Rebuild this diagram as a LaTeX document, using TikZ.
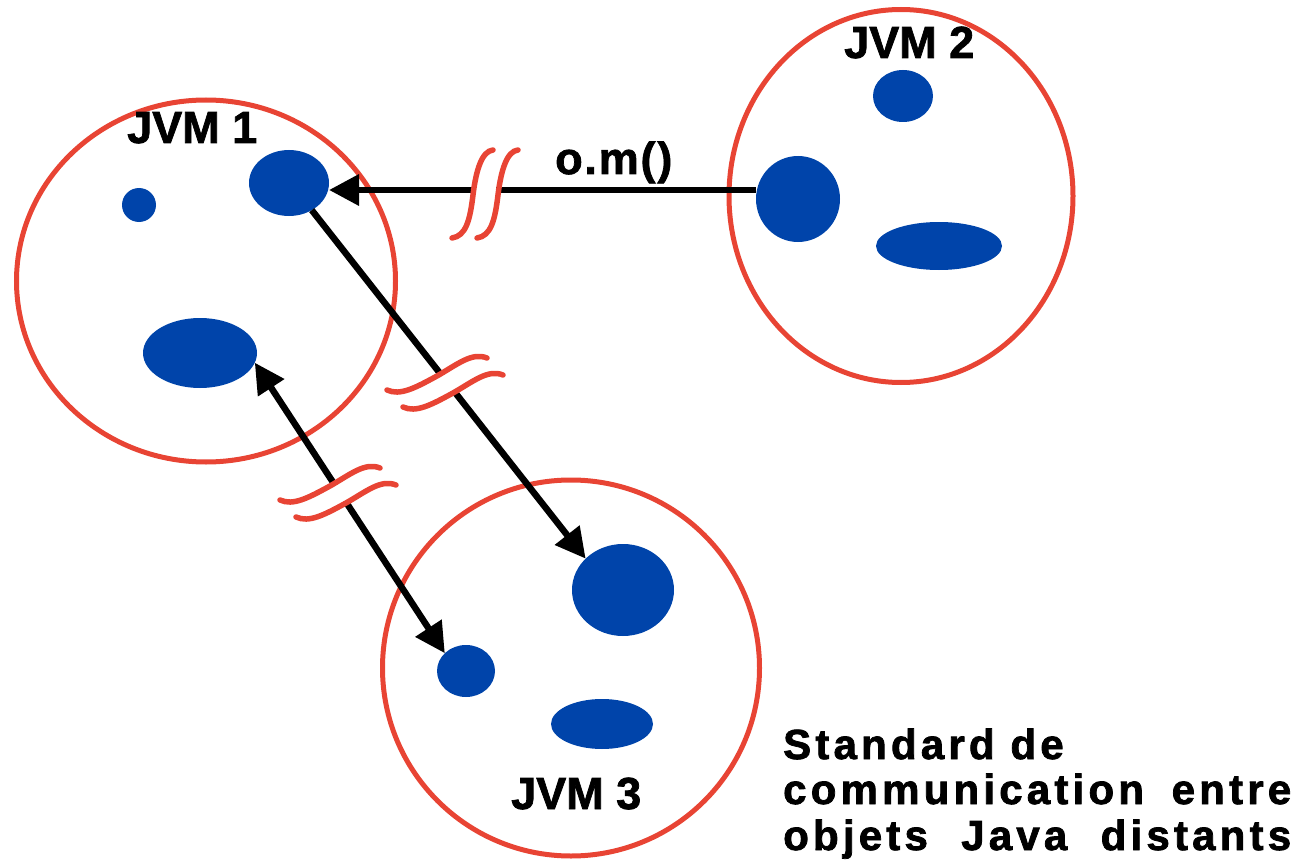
\documentclass[tikz,border=0pt]{standalone}
\usepackage{fontspec}
\setmainfont{Liberation Sans}[BoldFont={Liberation Sans Bold}]
\newfontfamily\labelfont[FakeBold=1.6]{Liberation Sans Bold}
\newfontfamily\trackedfont[LetterSpace=10,FakeBold=1.8]{Liberation Sans Bold}
\newfontfamily\lighttrack[LetterSpace=4,FakeBold=1.6]{Liberation Sans Bold}
\usetikzlibrary{shapes.geometric,arrows.meta}
\definecolor{jvmred}{RGB}{232,68,52}
\definecolor{objblue}{RGB}{0,68,170}
\tikzset{
  % wavy "network cut" marks drawn across a connector
  wavecut/.pic={
    \draw[gapline] (8,8.5) .. controls (21,14.5) and (36,6.5) .. (58,-5.5)
                           .. controls (79,-17.5) and (93,-29.5) .. (108,-23.5);
    \draw[cutline] (0,0) .. controls (13,6) and (28,-2) .. (50,-14)
                         .. controls (71,-26) and (85,-38) .. (100,-32);
    \draw[cutline] (16,17) .. controls (29,23) and (44,15) .. (66,3)
                           .. controls (87,-9) and (101,-21) .. (116,-15);
  },
  scut/.pic={
    \fill[white] (23,-60) rectangle (44,-30);
    \draw[cutline] (0,0) .. controls (14,-2) and (18,-18) .. (21,-43)
                         .. controls (24,-68) and (30,-87) .. (41,-88);
    \draw[cutline] (25,0) .. controls (39,-2) and (43,-18) .. (46,-43)
                          .. controls (49,-68) and (55,-87) .. (66,-88);
  }
}
\begin{document}
\begin{tikzpicture}[x=1pt,y=-1pt,
  jvm/.style={draw=jvmred,line width=5pt,ellipse,inner sep=0pt,minimum size=0pt},
  obj/.style={fill=objblue,ellipse,inner sep=0pt,outer sep=0pt},
  lbl/.style={font=\fontsize{45}{54}\labelfont,inner sep=0pt,anchor=base west},
  note/.style={font=\fontsize{42}{46}\trackedfont,inner sep=0pt,anchor=base west},
  msg/.style={line width=6.5pt,-{Triangle[length=30pt,width=30pt]}},
  cutline/.style={draw=jvmred,line width=5.5pt,line cap=round},
  gapline/.style={draw=white,line width=18pt}]
\useasboundingbox (0,0) rectangle (1299,864);

% the three virtual machines
\node[jvm,minimum width=379pt,minimum height=362pt] (jvm1) at (206,281) {};
\node[jvm,minimum width=344pt,minimum height=373pt] (jvm2) at (901,196) {};
\node[jvm,minimum width=377pt,minimum height=376pt] (jvm3) at (571,668) {};

% objects living in each machine
\node[obj,minimum width=34pt,minimum height=34pt] (b11) at (139,205) {};
\node[obj,minimum width=80pt,minimum height=66pt] (b12) at (289,183) {};
\node[obj,minimum width=114pt,minimum height=70pt] (b13) at (200,353) {};
\node[obj,minimum width=60pt,minimum height=52pt] (b21) at (903,96) {};
\node[obj,minimum width=84pt,minimum height=86pt] (b22) at (798,199) {};
\node[obj,minimum width=126pt,minimum height=48pt] (b23) at (939,246) {};
\node[obj,minimum width=102pt,minimum height=92pt] (b31) at (623,590) {};
\node[obj,minimum width=58pt,minimum height=52pt] (b32) at (466,671) {};
\node[obj,minimum width=102pt,minimum height=50pt] (b33) at (602,724) {};

% labels
\node[lbl] (l1) at (127,143) {JVM 1};
\node[lbl] (l2) at (844,58) {JVM 2};
\node[lbl] (l3) at (511,809) {JVM 3};
\node[lbl,font=\fontsize{45}{54}\lighttrack] (call) at (555,174) {o.m()};

% remote invocations
\coordinate (src) at ([yshift=9pt]b22.west);
\draw[msg] (src) -- (b12.east |- src);
\draw[msg] (b12.-50) -- (b31.140);
\draw[msg,{Triangle[length=30pt,width=30pt]}-{Triangle[length=30pt,width=30pt]}] (b13.-10) -- (b32.140);

% network breaks
\pic at (452,238) {scut};
\pic at (387,390) {wavecut};
\pic at (280,500) {wavecut};

% caption
\node[note] (n1) at (783,759) {Standard de};
\node[note] (n2) at (783,804) {\makebox[508pt][s]{communication entre}};
\node[note] (n3) at (783,850) {\makebox[508pt][s]{objets Java distants}};
\end{tikzpicture}
\end{document}
